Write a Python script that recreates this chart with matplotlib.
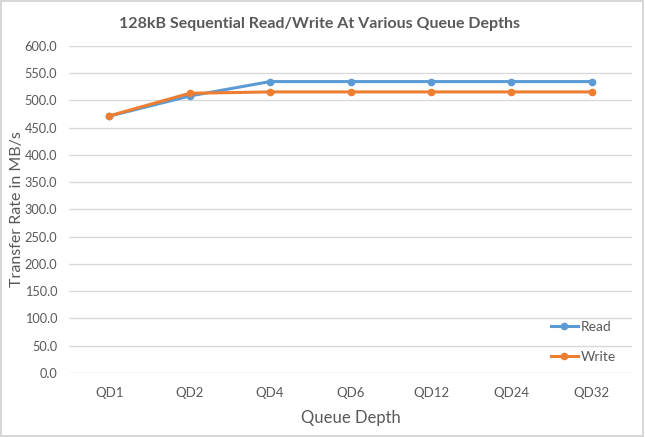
import matplotlib.pyplot as plt
from matplotlib.patches import Rectangle

# Данные
queue_depths = ['QD1', 'QD2', 'QD4', 'QD6', 'QD12', 'QD24', 'QD32']
read_mbs = [471.0, 508.0, 534.5, 534.5, 534.5, 534.5, 534.5]
write_mbs = [471.5, 513.0, 515.5, 515.5, 515.5, 515.5, 515.5]

plt.rcParams['font.family'] = ['Lato', 'DejaVu Sans']
gray = '#595959'

fig = plt.figure(figsize=(6.45, 4.37), dpi=100)
ax = fig.add_axes([0.107, 0.147, 0.873, 0.748])

x = range(len(queue_depths))
ax.plot(x, read_mbs, color='#5B9BD5', lw=2.2, marker='o', ms=4.5, label='Read')
ax.plot(x, write_mbs, color='#ED7D31', lw=2.2, marker='o', ms=4.5, label='Write')

ax.set_xlim(-0.5, len(queue_depths) - 0.5)
ax.set_ylim(0, 600)
ax.set_yticks(range(0, 601, 50))
ax.set_yticklabels([f'{v:.1f}' for v in range(0, 601, 50)])
ax.set_xticks(list(x))
ax.set_xticklabels(queue_depths)
ax.tick_params(colors=gray, labelsize=9.5, length=0, pad=10)
ax.tick_params(axis='y', labelsize=9.2, pad=8.5)
ax.grid(axis='y', color='#D9D9D9', lw=1)
ax.set_axisbelow(True)
for s in ax.spines.values():
    s.set_visible(False)

ax.set_xlabel('Queue Depth', color=gray, fontsize=12, labelpad=8)
ax.set_ylabel('Transfer Rate in MB/s', color=gray, fontsize=11.5)
ax.yaxis.set_label_coords(-0.08, 0.5)
fig.text(0.496, 0.945, '128kB Sequential Read/Write At Various Queue Depths',
         ha='center', va='center', color=gray, fontsize=11.5, fontweight='bold')

leg = ax.legend(loc='center left', bbox_to_anchor=(0.833, 0.095), frameon=False,
                fontsize=10, labelspacing=1.3, handlelength=2.0, handletextpad=0.2)
for t in leg.get_texts():
    t.set_color(gray)

fig.add_artist(Rectangle((0.002, 0.003), 0.995, 0.994, transform=fig.transFigure,
                         fill=False, edgecolor='#D0D0D0', lw=1.2))

fig.savefig('out.png', dpi=100)
